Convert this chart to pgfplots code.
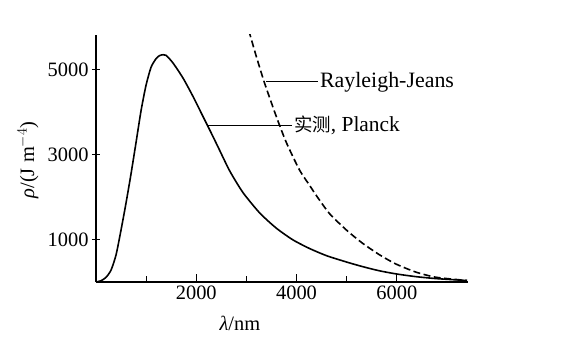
\documentclass[border=0pt]{standalone}
\usepackage{fontspec}
\setmainfont{Liberation Serif}
\newfontfamily\cjk{Noto Sans CJK SC}
\usepackage{pgfplots}
\pgfplotsset{compat=1.18}
\begin{document}
\begin{tikzpicture}[font=\fontsize{20.5}{24}\selectfont]
\useasboundingbox (-96bp,-56bp) rectangle (487bp,282bp);
\begin{axis}[
  at={(0,0)}, anchor=south west,
  scale only axis, width=372bp, height=247bp,
  xmin=0, xmax=7420, ymin=0, ymax=5825,
  axis lines=left, axis line style={-, line width=1.1bp},
  xtick={2000,4000,6000}, xticklabels={2000,4000,6000},
  minor xtick={1000,3000,5000},
  ytick={1000,3000,5000}, yticklabels={1000,3000,5000},
  xtick align=inside, ytick align=center,
  major tick length=8bp, minor tick length=6bp,
  tick style={line width=1bp, black},
  scaled ticks=false,
  /pgf/number format/assume math mode=true,
  xlabel={\textit{λ}/nm}, ylabel={\textit{ρ}/(J m$^{-4}$)},
  xlabel style={at={(axis description cs:0.387,-0.166)}, anchor=center},
  ylabel style={at={(axis description cs:-0.183,0.494)}, anchor=center},
  clip mode=individual,
]
\addplot[black, line width=1.6bp, smooth, tension=0.4] coordinates {
(0,0) (100,30) (200,110) (300,280) (400,640) (500,1230) (600,1870)
(700,2560) (800,3300) (900,4050) (1000,4650) (1100,5070) (1200,5270)
(1270,5340) (1340,5360) (1400,5345) (1538,5161) (1737,4807) (1936,4373)
(2135,3901) (2269,3585) (2428,3200) (2667,2620) (2931,2110) (3264,1630)
(3596,1270) (3926,995) (4259,790) (4600,620) (5000,470) (5310,365)
(5650,265) (5990,190) (6390,125) (6790,80) (7400,35)
};
\addplot[black, line width=1.6bp, dash pattern=on 7bp off 3.5bp, smooth, tension=0.4] coordinates {
(2990,6170) (3060,5880) (3200,5310) (3360,4700) (3600,3890) (3800,3280)
(4060,2640) (4260,2280) (4400,2030) (4660,1610) (5000,1220) (5310,920)
(5650,645) (5990,420) (6390,230) (6790,110) (7400,35)
};
\draw[line width=1bp] (axis cs:3400,4720) -- (axis cs:4420,4720)
  node[right, inner sep=2bp, font=\fontsize{22}{26}\selectfont] {Rayleigh-Jeans};
\draw[line width=1bp] (axis cs:2230,3700) -- (axis cs:3900,3700)
  node[right, inner sep=2bp, font=\fontsize{21.5}{26}\selectfont] {{\cjk\fontsize{18.5}{22}\selectfont 实测}, Planck};
\end{axis}
\end{tikzpicture}
\end{document}
